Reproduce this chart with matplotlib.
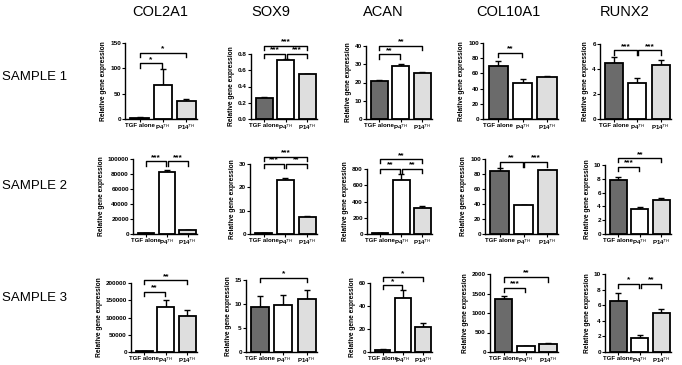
"""Relative gene expression grid: 3 samples x 5 genes, GraphPad-style bars."""

import matplotlib
matplotlib.use("Agg")
import matplotlib.pyplot as plt
import numpy as np

plt.rcParams["font.family"] = ["Liberation Sans", "DejaVu Sans"]

genes = ["COL2A1", "SOX9", "ACAN", "COL10A1", "RUNX2"]
samples = ["SAMPLE 1", "SAMPLE 2", "SAMPLE 3"]
groups = ["TGF alone", "P4$^{TH}$", "P14$^{TH}$"]

# rows = samples, columns = genes
means = [
    [[2, 68, 36], [0.26, 0.73, 0.55], [21, 29, 25], [70, 48, 55], [4.5, 2.9, 4.35]],
    [[1000, 83000, 5000], [0.3, 23, 7.5], [10, 670, 315], [84, 38.5, 85], [7.8, 3.6, 4.9]],
    [[2000, 130000, 105000], [9.4, 9.8, 11], [2, 47, 22], [1370, 150, 210], [6.5, 1.85, 5.0]],
]
errors = [
    [[1, 30, 4], [0.005, 0.01, 0.005], [0.5, 1, 0.8], [6, 4, 1], [0.45, 0.4, 0.4]],
    [[200, 3000, 200], [0.05, 1, 0.2], [3, 70, 25], [4, 0.5, 0.5], [0.5, 0.3, 0.3]],
    [[300, 20000, 18000], [2.3, 2.1, 1.9], [0.5, 7, 3.5], [60, 5, 10], [1.1, 0.3, 0.5]],
]
y_max = [
    [150, 0.8, 40, 100, 6],
    [100000, 30, 800, 100, 10],
    [200000, 15, 60, 2000, 10],
]
y_step = [
    [50, 0.2, 10, 20, 2],
    [20000, 10, 200, 20, 2],
    [50000, 5, 20, 500, 2],
]
# significance: (group a, group b, stars, bracket height in data units)
signif = [
    [[(0, 1, "*", 110), (0, 2, "*", 131)],
     [(0, 1, "***", 0.80), (1, 2, "***", 0.80), (0, 2, "***", 0.90)],
     [(0, 1, "**", 35.5), (0, 2, "**", 40)],
     [(0, 1, "**", 87)],
     [(0, 1, "***", 5.5), (1, 2, "***", 5.5)]],
    [[(0, 1, "***", 97000), (1, 2, "***", 97000)],
     [(0, 1, "***", 30), (1, 2, "**", 30), (0, 2, "***", 33)],
     [(0, 1, "**", 800), (1, 2, "**", 800), (0, 2, "**", 920)],
     [(0, 1, "**", 96), (1, 2, "***", 96)],
     [(0, 1, "***", 9.7), (0, 2, "**", 11)]],
    [[(0, 1, "**", 175000), (0, 2, "**", 208000)],
     [(0, 2, "*", 15.4)],
     [(0, 1, "*", 58), (0, 2, "*", 65)],
     [(0, 1, "***", 1650), (0, 2, "**", 1925)],
     [(0, 1, "*", 8.75), (1, 2, "**", 8.75)]],
]

bar_colors = ["#6b6b6b", "white", "#dedede"]

W, H = 682, 365
# panel boxes in pixels: left edge of y axis, right end, top (y max), bottom (zero)
lefts = [[125, 251, 366, 483, 600],
         [133, 250, 367, 485, 605],
         [131, 246, 370, 490, 605]]
rights = [197, 317, 432, 558, 671]
tops = [[43, 54, 46, 43, 44],
        [159, 164, 169, 159, 165],
        [283, 280, 283, 274, 274]]
bottoms = [119, 234, 352]

fig = plt.figure(figsize=(W / 100, H / 100), dpi=100)

for r in range(3):
    for c in range(5):
        l, rt = lefts[r][c], rights[c]
        t, b = tops[r][c], bottoms[r]
        ax = fig.add_axes([l / W, 1 - b / H, (rt - l) / W, (b - t) / H])
        x = np.arange(3)
        m = means[r][c]
        e = errors[r][c]
        ax.errorbar(x, m, yerr=[[0, 0, 0], e], fmt="none", ecolor="black",
                    elinewidth=1.0, capsize=2.5, capthick=1.0, zorder=1)
        ax.bar(x, m, width=0.78, color=bar_colors, edgecolor="black",
               linewidth=1.3, zorder=2)
        ym = y_max[r][c]
        ax.set_ylim(0, ym)
        ax.set_xlim(-0.62, 2.45)
        ticks = np.arange(0, ym + y_step[r][c] / 2, y_step[r][c])
        ax.set_yticks(ticks)
        if y_step[r][c] < 1:
            ax.set_yticklabels([f"{v:.1f}" for v in ticks])
        else:
            ax.set_yticklabels([f"{int(round(v))}" for v in ticks])
        ax.set_xticks(x)
        ax.set_xticklabels(groups)
        ax.tick_params(axis="y", labelsize=4.6, length=2, width=0.8, pad=1)
        ax.tick_params(axis="x", labelsize=4.4, length=2, width=0.8, pad=1)
        for lab in ax.get_xticklabels() + ax.get_yticklabels():
            lab.set_fontweight("bold")
        ax.set_ylabel("Relative gene expression", fontsize=4.8,
                      fontweight="bold", labelpad=2)
        for s in ("top", "right"):
            ax.spines[s].set_visible(False)
        for s in ("left", "bottom"):
            ax.spines[s].set_linewidth(1.0)
        ax.patch.set_alpha(0)

        tip = ym * 0.06
        for a, bb, stars, yb in signif[r][c]:
            xa = a + (0.04 if a == 1 else 0)
            xb = bb - (0.04 if bb == 1 else 0)
            ax.plot([xa, xa, xb, xb], [yb - tip, yb, yb, yb - tip],
                    color="black", lw=1.0, clip_on=False)
            ax.text((xa + xb) / 2, yb + ym * 0.005, stars, ha="center",
                    va="bottom", fontsize=6, fontweight="bold")

title_x = [160, 271, 383, 508, 625]
for g, tx in zip(genes, title_x):
    fig.text(tx / W, 1 - 12 / H, g, ha="center", va="center", fontsize=10.5)

row_y = [77, 186, 298]
for s, ry in zip(samples, row_y):
    fig.text(2 / W, 1 - ry / H, s, ha="left", va="center", fontsize=9.5)

fig.savefig("out.png", dpi=100)
plt.close(fig)
